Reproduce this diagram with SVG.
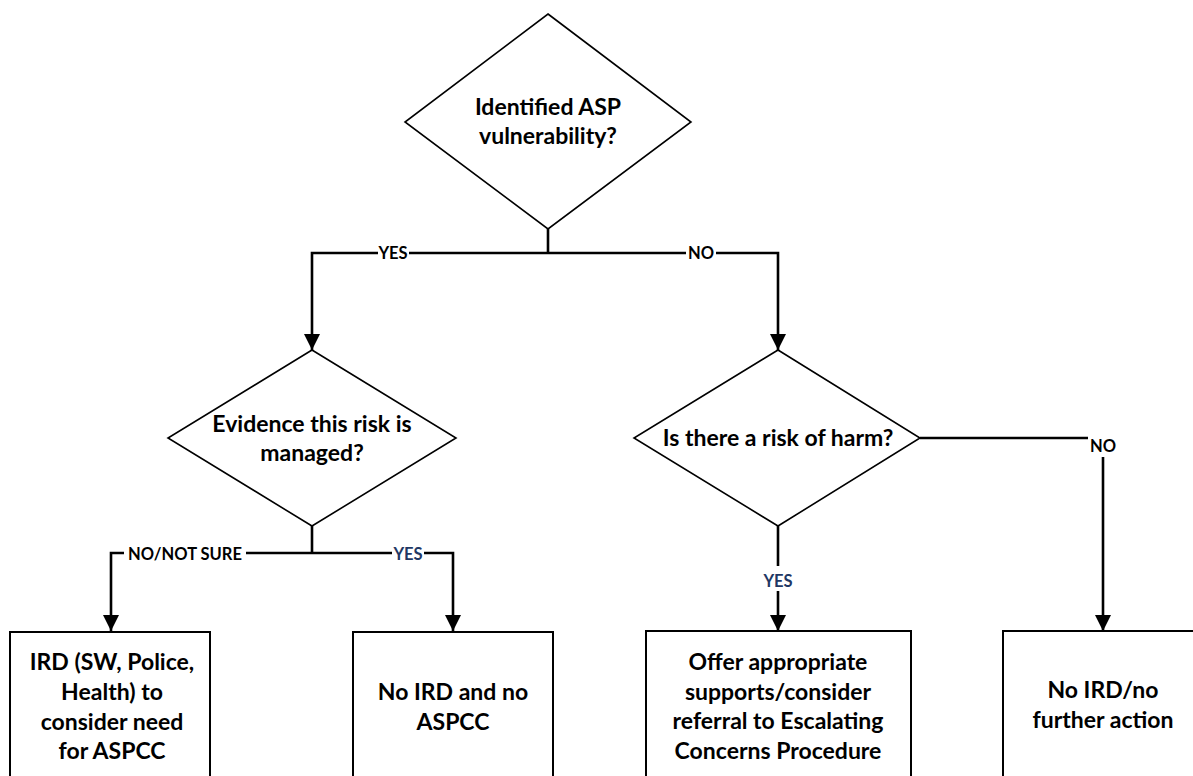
<svg xmlns="http://www.w3.org/2000/svg" width="1193" height="776" viewBox="0 0 1193 776">
<style>
.shape{fill:#fff;stroke:#000;stroke-width:1.6}
.box{fill:#fff;stroke:#000;stroke-width:2}
.conn{fill:none;stroke:#000;stroke-width:2.6}
.t{font-family:Lato,"Liberation Sans",sans-serif;font-weight:bold;font-size:23px;fill:#000;text-anchor:middle}
.lbl{font-family:Lato,"Liberation Sans",sans-serif;font-weight:bold;font-size:16.5px;fill:#000;text-anchor:middle}
.blue{fill:#1f3864}
.bg{fill:#fff;stroke:none}
</style>
<defs>
<marker id="arr" markerUnits="userSpaceOnUse" markerWidth="16" markerHeight="16" refX="16" refY="8" orient="auto">
<path d="M0,0 L16,8 L0,16 z" fill="#000"/>
</marker>
</defs>
<rect width="1193" height="776" fill="#fff"/>
<g id="connectors">
<path class="conn" d="M548,229 V253"/>
<path class="conn" d="M548,253 H312 V350" marker-end="url(#arr)"/>
<path class="conn" d="M548,253 H778 V350" marker-end="url(#arr)"/>
<path class="conn" d="M312,526 V553"/>
<path class="conn" d="M312,553 H111 V631" marker-end="url(#arr)"/>
<path class="conn" d="M312,553 H453 V631" marker-end="url(#arr)"/>
<path class="conn" d="M778,526 V631" marker-end="url(#arr)"/>
<path class="conn" d="M920,438 H1088"/>
<path class="conn" d="M1103,457 V631" marker-end="url(#arr)"/>
<rect class="bg" x="378" y="244" width="31" height="18"/>
<text class="lbl" x="393" y="259">YES</text>
<rect class="bg" x="686" y="244" width="30" height="18"/>
<text class="lbl" x="701" y="259">NO</text>
<rect class="bg" x="124" y="544" width="122" height="18"/>
<text class="lbl" x="185" y="560">NO/NOT SURE</text>
<rect class="bg" x="392" y="544" width="32" height="18"/>
<text class="lbl blue" x="408" y="560">YES</text>
<rect class="bg" x="762" y="566" width="32" height="25"/>
<text class="lbl blue" x="778" y="587">YES</text>
<text class="lbl" x="1103" y="452">NO</text>
</g>
<g id="d1">
<polygon class="shape" points="548,14 691,122 548,229 405,122"/>
<text class="t" x="548" y="115">Identified ASP</text>
<text class="t" x="548" y="144">vulnerability?</text>
</g>
<g id="d2">
<polygon class="shape" points="312,350 456,438 312,526 168,438"/>
<text class="t" x="312" y="432">Evidence this risk is</text>
<text class="t" x="312" y="461">managed?</text>
</g>
<g id="d3">
<polygon class="shape" points="778,350 920,438 778,526 634,438"/>
<text class="t" x="778" y="446">Is there a risk of harm?</text>
</g>
<g id="b1">
<rect class="box" x="10" y="632" width="200" height="170"/>
<text class="t" x="112" y="670">IRD (SW, Police,</text>
<text class="t" x="112" y="700">Health) to</text>
<text class="t" x="112" y="730">consider need</text>
<text class="t" x="112" y="759">for ASPCC</text>
</g>
<g id="b2">
<rect class="box" x="353" y="632" width="200" height="170"/>
<text class="t" x="453" y="700">No IRD and no</text>
<text class="t" x="453" y="730">ASPCC</text>
</g>
<g id="b3">
<rect class="box" x="646" y="631" width="265" height="170"/>
<text class="t" x="778" y="670">Offer appropriate</text>
<text class="t" x="778" y="700">supports/consider</text>
<text class="t" x="778" y="729">referral to Escalating</text>
<text class="t" x="778" y="759">Concerns Procedure</text>
</g>
<g id="b4">
<rect class="box" x="1003" y="631" width="200" height="170"/>
<text class="t" x="1103" y="698">No IRD/no</text>
<text class="t" x="1103" y="728">further action</text>
</g>
</svg>
